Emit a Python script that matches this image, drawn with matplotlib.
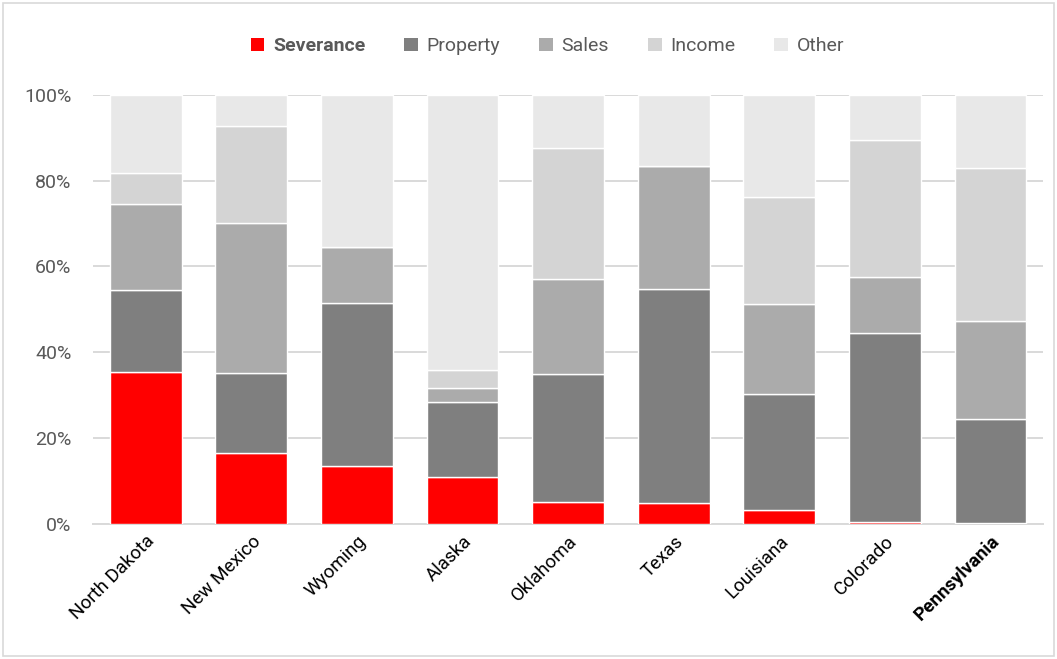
import matplotlib
matplotlib.use("Agg")
import matplotlib.pyplot as plt
from matplotlib.patches import Rectangle, Patch
import numpy as np

states = ["North Dakota", "New Mexico", "Wyoming", "Alaska", "Oklahoma",
          "Texas", "Louisiana", "Colorado", "Pennsylvania"]
severance = [35.4, 16.5, 13.5, 10.9, 5.0, 4.8, 3.3, 0.4, 0.2]
property_ = [19.1, 18.7, 38.0, 17.5, 30.0, 49.9, 26.9, 44.1, 24.2]
sales = [20.1, 35.0, 13.1, 3.3, 22.2, 28.7, 21.1, 13.1, 23.0]
income = [7.2, 22.6, 0.0, 4.1, 30.5, 0.0, 24.8, 32.0, 35.5]
other = [18.2, 7.2, 35.4, 64.2, 12.3, 16.6, 23.9, 10.4, 17.1]

series = [("Severance", severance, "#FF0000"),
          ("Property", property_, "#7F7F7F"),
          ("Sales", sales, "#ABABAB"),
          ("Income", income, "#D4D4D4"),
          ("Other", other, "#E8E8E8")]

plt.rcParams['font.family'] = ['Roboto', 'DejaVu Sans']

fig = plt.figure(figsize=(10.57, 6.59), dpi=100)
ax = fig.add_axes([0.088, 0.205, 0.899, 0.651])

x = np.arange(len(states))
bottom = np.zeros(len(states))
for name, vals, col in series:
    v = np.array(vals, dtype=float)
    ax.bar(x, v, bottom=bottom, width=0.68, color=col, edgecolor="white",
           linewidth=1.0, label=name, zorder=3)
    bottom += v

ax.set_xlim(-0.5, len(states) - 0.5)
ax.set_ylim(0, 100)
ax.set_yticks([0, 20, 40, 60, 80, 100])
ax.set_yticklabels(["0%", "20%", "40%", "60%", "80%", "100%"])
ax.yaxis.grid(True, color="#D9D9D9", linewidth=1.4, zorder=0)
ax.set_axisbelow(True)
for s in ["top", "right", "left"]:
    ax.spines[s].set_visible(False)
ax.spines["bottom"].set_color("#D9D9D9")
ax.spines["bottom"].set_linewidth(1.4)
ax.tick_params(axis="y", length=0, labelsize=14, labelcolor="#595959", pad=15.5)
ax.tick_params(axis="x", length=0, labelsize=13.5, labelcolor="#000000", pad=6)
ax.set_xticks(x)
ax.set_xticklabels(states, rotation=45, ha="right", rotation_mode="anchor")
for lbl in ax.get_xticklabels():
    if lbl.get_text() == "Pennsylvania":
        lbl.set_fontweight("bold")

handles = [Patch(facecolor=c, edgecolor="none") for _, _, c in series]
leg = fig.legend(handles, [n for n, _, _ in series], loc="center",
                 bbox_to_anchor=(0.518, 0.930), ncol=5, frameon=False,
                 fontsize=14, handlelength=0.7, handleheight=0.7,
                 handletextpad=0.45, columnspacing=2.0)
for t in leg.get_texts():
    t.set_color("#595959")
    if t.get_text() == "Severance":
        t.set_fontweight("bold")

fig.patches.append(Rectangle((0.003, 0.004), 0.994, 0.992, transform=fig.transFigure,
                             fill=False, edgecolor="#D9D9D9", linewidth=1.2))

fig.savefig("out.png", dpi=100)
